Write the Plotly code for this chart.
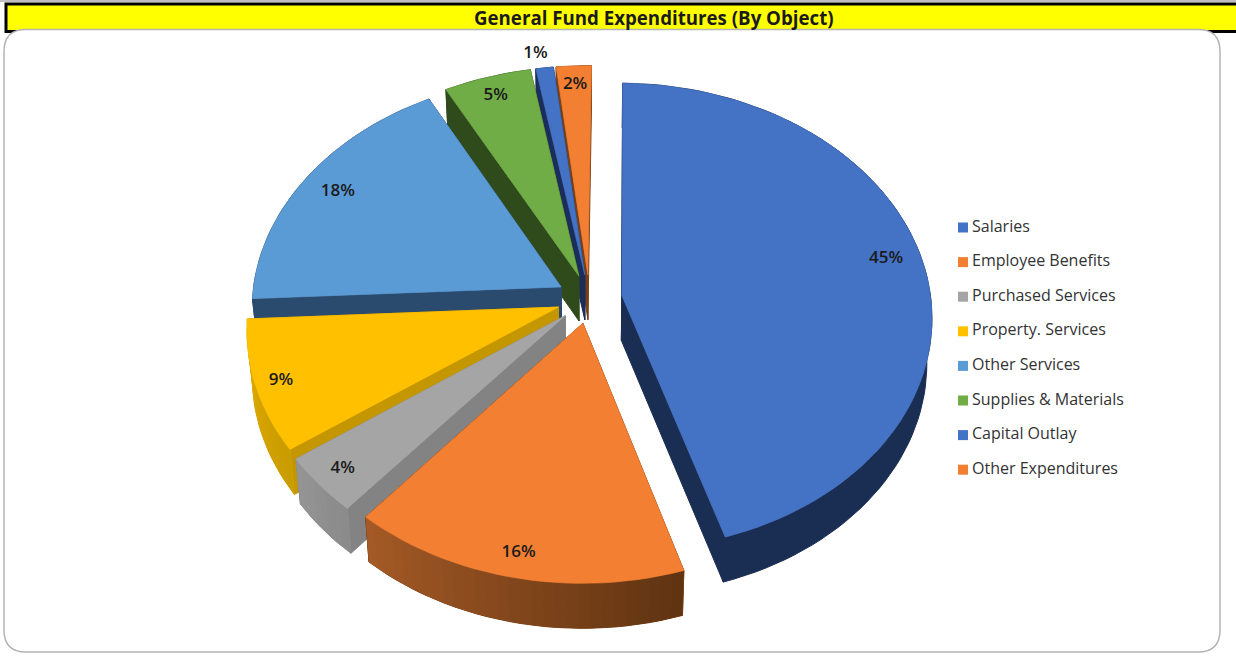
import math
import plotly.graph_objects as go

# Budget shares, in percent
categories = ["Salaries", "Employee Benefits", "Purchased Services", "Property. Services",
              "Other Services", "Supplies & Materials", "Capital Outlay", "Other Expenditures"]
values = [45, 16, 4, 9, 18, 5, 1, 2]

top_colors = ["#4472C4", "#F37F32", "#A5A5A5", "#FFC000", "#5B9BD5", "#70AD47", "#4472C4", "#F37F32"]
edge_colors = ["#1A2D52", "#6A3712", "#838383", "#C49700", "#2A4A6E", "#2F4A1B", "#1B2D5B", "#7A4015"]
rim_from = ["#1A2D52", "#5F3311", "#8A8A8A", "#C89B00", "#2A4A6E", "#2F4A1B", "#1B2D5B", "#7A4015"]
rim_to = ["#1A2D52", "#A55A26", "#959595", "#E5AE00", "#2A4A6E", "#2F4A1B", "#1B2D5B", "#7A4015"]
label_radius = [0.885, 0.91, 0.91, 0.92, 0.87, 0.90, 1.08, 0.90]
label_turn = [-2.2, 0.4, 0, -0.3, 0, 0, -1.2, 0]
back_to_front = [7, 6, 5, 4, 0, 3, 2, 1]

# Perspective pie geometry
CX, CY = 589.5, 299.0
RX, RY = 309.0, 232.0
FIRST_ANGLE = 0.7
PERSPECTIVE = 0.09
PULL = 0.106
DEPTH = 45.0
BOTTOM_SHRINK = 0.985
ARC_STEP = 2.0


def project(u, v, z=0.0):
    d = 1 + PERSPECTIVE * v
    scale = 1 - (1 - BOTTOM_SHRINK) * z
    return CX + u * RX / d * scale, CY - v * RY / d + DEPTH * z


def rgb(hex_color):
    return tuple(int(hex_color[i:i + 2], 16) for i in (1, 3, 5))


def blend(c0, c1, t):
    a, b = rgb(c0), rgb(c1)
    return "rgb(%d,%d,%d)" % tuple(round(a[i] + (b[i] - a[i]) * t) for i in range(3))


def polygon(points, color, name=None, width=1.0):
    xs = [p[0] for p in points] + [points[0][0]]
    ys = [p[1] for p in points] + [points[0][1]]
    return go.Scatter(x=xs, y=ys, mode="lines", fill="toself", fillcolor=color,
                      line=dict(color=color, width=width), showlegend=False,
                      hoverinfo="text" if name else "skip", text=name, hoveron="fills")


def slice_traces(i, start, end):
    """Radial walls, rim and top face of one pulled slice; angles clockwise from north."""
    mid = math.radians((start + end) / 2)
    ou, ov = PULL * math.sin(mid), PULL * math.cos(mid)
    steps = max(2, int((end - start) / ARC_STEP) + 1)
    angles = [start + (end - start) * k / steps for k in range(steps + 1)]
    rim = [(ou + math.sin(math.radians(a)), ov + math.cos(math.radians(a))) for a in angles]

    out = []
    for u, v in (rim[0], rim[-1]):
        out.append(polygon([project(ou, ov), project(u, v), project(u, v, 1), project(ou, ov, 1)],
                           edge_colors[i]))

    # One solid band for the whole rim, then overlapping shaded strips for the gradient
    band = [project(u, v) for u, v in rim] + [project(u, v, 1) for u, v in reversed(rim)]
    out.append(polygon(band, blend(rim_from[i], rim_to[i], 0.5)))
    if rim_from[i] != rim_to[i]:
        for k in range(steps):
            a, b = rim[k], rim[min(k + 2, steps)]
            out.append(polygon([project(*a), project(*b), project(*b, 1), project(*a, 1)],
                               blend(rim_from[i], rim_to[i], (k + 0.5) / steps), width=0))
    top = [project(ou, ov)] + [project(u, v) for u, v in rim]
    out.append(polygon(top, top_colors[i], f"{categories[i]}: {values[i]}%", width=0.7))
    return out


total = sum(values)
starts, running = [], FIRST_ANGLE
for val in values:
    starts.append(running)
    running += val / total * 360

fig = go.Figure()
for i in back_to_front:
    for tr in slice_traces(i, starts[i], starts[i] + values[i] / total * 360):
        fig.add_trace(tr)

# Percentage labels sit near each slice's mid-angle
lx, ly = [], []
for i, val in enumerate(values):
    mid = math.radians(starts[i] + val / total * 180)
    ou, ov = PULL * math.sin(mid), PULL * math.cos(mid)
    turned = mid + math.radians(label_turn[i])
    lx_i, ly_i = project(ou + label_radius[i] * math.sin(turned), ov + label_radius[i] * math.cos(turned))
    lx.append(lx_i)
    ly.append(ly_i)
fig.add_trace(go.Scatter(x=lx, y=ly, mode="text", text=[f"{v}%" for v in values],
                         textposition="middle center", showlegend=False, hoverinfo="skip",
                         textfont=dict(family="Open Sans", size=17, color="#1A1A1A", weight=600)))

# Key on the right
KEY_X, KEY_TEXT_X, KEY_Y, KEY_GAP = 963, 972, 227.5, 34.6
key_y = [KEY_Y + KEY_GAP * i for i in range(len(categories))]
fig.add_trace(go.Scatter(
    x=[KEY_X] * len(categories), y=key_y, mode="markers",
    marker=dict(symbol="square", size=10, color=top_colors, line=dict(width=0)),
    showlegend=False, hoverinfo="skip"))
fig.add_trace(go.Scatter(
    x=[KEY_TEXT_X] * len(categories), y=key_y, mode="text", text=categories,
    textposition="middle right",
    textfont=dict(family="Open Sans", size=16, color="#333333"),
    showlegend=False, hoverinfo="skip"))

shapes = [
    dict(type="line", x0=0, x1=1236, y0=1, y1=1, line=dict(color="#AAAAAA", width=1.5), layer="below"),
    dict(type="rect", x0=6, x1=1245, y0=4, y1=31.5, fillcolor="#FFFF00",
         line=dict(color="#000000", width=3), layer="below"),
    dict(type="path",
         path="M 26,29.5 L 1198,29.5 Q 1220,29.5 1220,51.5 L 1220,630 Q 1220,652 1198,652 "
              "L 26,652 Q 4,652 4,630 L 4,51.5 Q 4,29.5 26,29.5 Z",
         fillcolor="#FFFFFF", line=dict(color="#B4B4B4", width=1.5), layer="below"),
]

fig.update_layout(
    width=1236, height=656, autosize=False,
    margin=dict(l=0, r=0, t=0, b=0),
    paper_bgcolor="#FFFFFF", plot_bgcolor="rgba(0,0,0,0)",
    xaxis=dict(range=[0, 1236], visible=False, fixedrange=True),
    yaxis=dict(range=[656, 0], visible=False, fixedrange=True),
    shapes=shapes, showlegend=False,
    annotations=[dict(text="<b>General Fund Expenditures (By Object)</b>", x=654, y=17, xref="x", yref="y",
                      showarrow=False, font=dict(family="Open Sans", size=18.7, color="#1A1A1A"))],
)
fig.write_html("out.html")
